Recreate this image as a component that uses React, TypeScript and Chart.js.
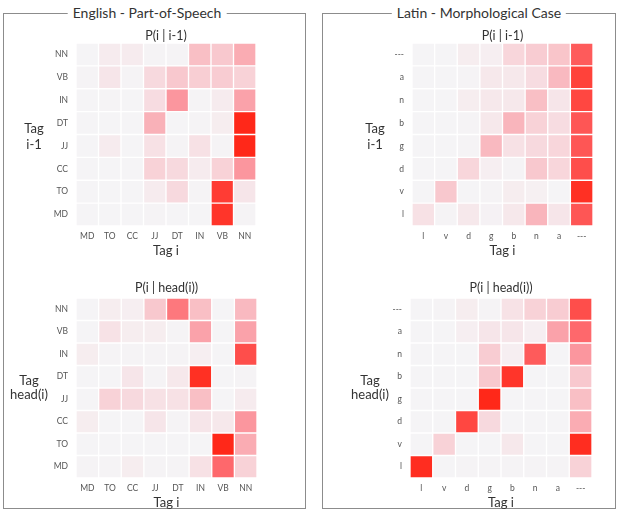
import React, { useEffect, useRef } from "react";
import { Chart, registerables } from "chart.js";

Chart.register(...registerables);

const FONT = "Lato, 'Open Sans', 'DejaVu Sans', sans-serif";

// Column tags (left to right) and row tags (top to bottom)
const posCols = ["MD", "TO", "CC", "JJ", "DT", "IN", "VB", "NN"];
const posRows = ["NN", "VB", "IN", "DT", "JJ", "CC", "TO", "MD"];
const caseCols = ["l", "v", "d", "g", "b", "n", "a", "---"];
const caseRows = ["---", "a", "n", "b", "g", "d", "v", "l"];

// English POS: P(i | i-1), one array per row (top to bottom)
const enPrevNN = [0.02, 0.08, 0.08, 0.03, 0.03, 0.35, 0.3, 0.45];
const enPrevVB = [0.03, 0.12, 0.03, 0.2, 0.3, 0.27, 0.28, 0.25];
const enPrevIN = [0.02, 0.03, 0.02, 0.18, 0.55, 0.03, 0.08, 0.5];
const enPrevDT = [0.02, 0.02, 0.02, 0.42, 0.02, 0.03, 0.07, 1.0];
const enPrevJJ = [0.02, 0.08, 0.02, 0.15, 0.03, 0.15, 0.03, 1.0];
const enPrevCC = [0.02, 0.02, 0.02, 0.25, 0.2, 0.08, 0.25, 0.55];
const enPrevTO = [0.02, 0.02, 0.02, 0.08, 0.2, 0.03, 0.92, 0.12];
const enPrevMD = [0.02, 0.02, 0.02, 0.03, 0.02, 0.02, 0.95, 0.03];

// English POS: P(i | head(i))
const enHeadNN = [0.02, 0.07, 0.06, 0.3, 0.68, 0.35, 0.02, 0.38];
const enHeadVB = [0.02, 0.14, 0.07, 0.07, 0.03, 0.5, 0.02, 0.5];
const enHeadIN = [0.07, 0.03, 0.03, 0.03, 0.03, 0.06, 0.02, 0.85];
const enHeadDT = [0.02, 0.02, 0.12, 0.03, 0.1, 0.97, 0.02, 0.03];
const enHeadJJ = [0.02, 0.25, 0.2, 0.15, 0.15, 0.35, 0.02, 0.08];
const enHeadCC = [0.07, 0.02, 0.02, 0.12, 0.03, 0.12, 0.1, 0.55];
const enHeadTO = [0.02, 0.02, 0.02, 0.02, 0.02, 0.02, 1.0, 0.45];
const enHeadMD = [0.03, 0.03, 0.07, 0.03, 0.03, 0.15, 0.75, 0.25];

// Latin case: P(i | i-1)
const laPrevX = [0.02, 0.02, 0.07, 0.06, 0.22, 0.28, 0.32, 0.8];
const laPrevA = [0.02, 0.02, 0.03, 0.1, 0.1, 0.18, 0.38, 0.9];
const laPrevN = [0.02, 0.02, 0.07, 0.1, 0.1, 0.35, 0.12, 0.88];
const laPrevB = [0.02, 0.02, 0.03, 0.1, 0.4, 0.25, 0.18, 0.82];
const laPrevG = [0.02, 0.02, 0.03, 0.38, 0.15, 0.2, 0.22, 0.82];
const laPrevD = [0.02, 0.02, 0.22, 0.06, 0.03, 0.3, 0.22, 0.85];
const laPrevV = [0.02, 0.3, 0.02, 0.03, 0.07, 0.05, 0.02, 0.97];
const laPrevL = [0.15, 0.03, 0.1, 0.04, 0.1, 0.4, 0.12, 0.82];

// Latin case: P(i | head(i))
const laHeadX = [0.02, 0.03, 0.07, 0.03, 0.14, 0.25, 0.28, 0.85];
const laHeadA = [0.02, 0.02, 0.06, 0.12, 0.12, 0.06, 0.5, 0.75];
const laHeadN = [0.02, 0.02, 0.02, 0.28, 0.06, 0.8, 0.02, 0.55];
const laHeadB = [0.02, 0.02, 0.02, 0.3, 0.95, 0.02, 0.02, 0.3];
const laHeadG = [0.02, 0.02, 0.02, 1.0, 0.02, 0.02, 0.02, 0.35];
const laHeadD = [0.02, 0.02, 0.88, 0.2, 0.02, 0.02, 0.02, 0.45];
const laHeadV = [0.02, 0.25, 0.02, 0.02, 0.1, 0.02, 0.02, 0.98];
const laHeadL = [0.98, 0.02, 0.03, 0.03, 0.03, 0.03, 0.03, 0.25];

// light grey -> pink -> red
const colorStops: number[][] = [
  [0, 245, 247, 249],
  [0.25, 248, 210, 215],
  [0.5, 250, 162, 170],
  [0.75, 254, 104, 108],
  [1, 255, 40, 25],
];

function heatColor(v: number): string {
  const t = Math.max(0, Math.min(1, v));
  for (let i = 1; i < colorStops.length; i++) {
    const a = colorStops[i - 1];
    const b = colorStops[i];
    if (t <= b[0]) {
      const f = (t - a[0]) / (b[0] - a[0]);
      const c = [1, 2, 3].map((k) => Math.round(a[k] + (b[k] - a[k]) * f));
      return `rgb(${c[0]},${c[1]},${c[2]})`;
    }
  }
  return "rgb(255,40,25)";
}

type Box = { x0: number; y0: number; x1: number; y1: number };

type HeatProps = {
  cols: string[];
  rows: string[];
  values: number[][];
  title: string;
  yLabel: string[];
  area: Box;
  titleY: number;
  xTitleY: number;
  canvasLeft: number;
  canvasRight: number;
  yLabelX: number;
  yLabelY: number[];
};

const TITLE_SIZE = 12.5;
const XTITLE_SIZE = 13;
const TICK_SIZE = 8.5;

function Heatmap(p: HeatProps) {
  const ref = useRef<HTMLCanvasElement | null>(null);

  const lhT = TITLE_SIZE * 1.2;
  const lhX = XTITLE_SIZE * 1.2;
  const top = Math.round(p.titleY - lhT / 2 - 2);
  const bottom = Math.round(p.xTitleY + lhX / 2);
  const height = bottom - top;
  const width = p.canvasRight - p.canvasLeft;
  const yAxisW = p.area.x0 - p.canvasLeft;
  const xAxisH = bottom - p.area.y1;
  const padRight = p.canvasRight - p.area.x1;
  const titleTopPad = p.titleY - lhT / 2 - top;
  const titleBottomPad = p.area.y0 - p.titleY - lhT / 2;

  useEffect(() => {
    if (!ref.current) return;
    // stack rows from the bottom up, one dataset per row
    const bottomUp = p.rows.map((r, i) => ({ r, vals: p.values[i] })).reverse();
    const datasets = bottomUp.map((row) => ({
      label: row.r,
      data: p.cols.map(() => 1),
      backgroundColor: row.vals.map((v) => heatColor(v)),
      borderColor: "#ffffff",
      borderWidth: 1,
      borderSkipped: false as const,
      barPercentage: 1,
      categoryPercentage: 1,
    }));

    const yLabelPlugin = {
      id: "rowAxisLabel",
      afterDraw(chart: any) {
        const ctx = chart.ctx;
        ctx.save();
        ctx.fillStyle = "#333";
        ctx.font = `${XTITLE_SIZE}px ${FONT}`;
        ctx.textAlign = "center";
        ctx.textBaseline = "middle";
        p.yLabel.forEach((line, i) => {
          ctx.fillText(line, p.yLabelX - p.canvasLeft, p.yLabelY[i] - top);
        });
        ctx.restore();
      },
    };

    const chart = new Chart(ref.current, {
      type: "bar",
      data: { labels: p.cols, datasets },
      plugins: [yLabelPlugin],
      options: {
        animation: false,
        responsive: false,
        devicePixelRatio: 1,
        layout: { padding: { left: 0, right: padRight, top: 0, bottom: 0 } },
        plugins: {
          legend: { display: false },
          tooltip: { enabled: false },
          title: {
            display: true,
            text: p.title,
            fullSize: false,
            color: "#333",
            font: { family: FONT, size: TITLE_SIZE, weight: "normal" },
            padding: { top: titleTopPad, bottom: titleBottomPad },
          },
        },
        scales: {
          x: {
            type: "category",
            stacked: true,
            grid: { display: false, drawTicks: false },
            border: { display: false },
            ticks: {
              color: "#555",
              font: { family: FONT, size: TICK_SIZE },
              padding: 5,
              maxRotation: 0,
              autoSkip: false,
            },
            title: {
              display: true,
              text: "Tag i",
              color: "#333",
              font: { family: FONT, size: XTITLE_SIZE },
              padding: 0,
            },
            afterFit: (s: any) => {
              s.height = xAxisH;
            },
          },
          y: {
            type: "linear",
            stacked: true,
            min: 0,
            max: p.rows.length,
            grid: { display: false, drawTicks: false },
            border: { display: false },
            afterBuildTicks: (s: any) => {
              s.ticks = bottomUp.map((_, i) => ({ value: i + 0.5 }));
            },
            ticks: {
              color: "#555",
              font: { family: FONT, size: TICK_SIZE },
              padding: 8,
              autoSkip: false,
              callback: (_v: any, i: number) => bottomUp[i]?.r ?? "",
            },
            afterFit: (s: any) => {
              s.width = yAxisW;
            },
          },
        },
      } as any,
    });
    return () => chart.destroy();
  }, []);

  return (
    <canvas
      ref={ref}
      width={width}
      height={height}
      style={{ position: "absolute", left: p.canvasLeft, top, width, height }}
    />
  );
}

function Panel(props: { left: number; right: number; title: string; titleX: number }) {
  const top = 13;
  const bottom = 509;
  return (
    <>
      <div
        style={{
          position: "absolute",
          left: props.left,
          top,
          width: props.right - props.left,
          height: bottom - top,
          border: "1.5px solid #8c8c8c",
          boxSizing: "border-box",
        }}
      />
      <div
        style={{
          position: "absolute",
          left: props.titleX,
          top: top,
          transform: "translate(-50%, -50%)",
          background: "#fff",
          padding: "0 5px",
          fontFamily: FONT,
          fontSize: 14,
          color: "#333",
          whiteSpace: "nowrap",
          lineHeight: "16px",
        }}
      >
        {props.title}
      </div>
    </>
  );
}

export default function App() {
  return (
    <div
      style={{
        position: "fixed",
        left: 0,
        top: 0,
        width: 618,
        height: 513,
        background: "#fff",
        overflow: "hidden",
      }}
    >
      <Panel left={3} right={306} title="English - Part-of-Speech" titleX={147} />
      <Panel left={322} right={616} title="Latin - Morphological Case" titleX={479} />

      <Heatmap
        cols={posCols}
        rows={posRows}
        values={[enPrevNN, enPrevVB, enPrevIN, enPrevDT, enPrevJJ, enPrevCC, enPrevTO, enPrevMD]}
        title="P(i | i-1)"
        yLabel={["Tag", "i-1"]}
        area={{ x0: 76, y0: 43, x1: 256, y1: 226 }}
        titleY={36}
        xTitleY={251}
        canvasLeft={8}
        canvasRight={266}
        yLabelX={34}
        yLabelY={[129, 145]}
      />
      <Heatmap
        cols={posCols}
        rows={posRows}
        values={[enHeadNN, enHeadVB, enHeadIN, enHeadDT, enHeadJJ, enHeadCC, enHeadTO, enHeadMD]}
        title="P(i | head(i))"
        yLabel={["Tag", "head(i)"]}
        area={{ x0: 76, y0: 298, x1: 257, y1: 478 }}
        titleY={288}
        xTitleY={503}
        canvasLeft={8}
        canvasRight={266}
        yLabelX={29}
        yLabelY={[381, 395]}
      />
      <Heatmap
        cols={caseCols}
        rows={caseRows}
        values={[laPrevX, laPrevA, laPrevN, laPrevB, laPrevG, laPrevD, laPrevV, laPrevL]}
        title="P(i | i-1)"
        yLabel={["Tag", "i-1"]}
        area={{ x0: 412, y0: 43, x1: 593, y1: 226 }}
        titleY={36}
        xTitleY={251}
        canvasLeft={328}
        canvasRight={603}
        yLabelX={375}
        yLabelY={[129, 145]}
      />
      <Heatmap
        cols={caseCols}
        rows={caseRows}
        values={[laHeadX, laHeadA, laHeadN, laHeadB, laHeadG, laHeadD, laHeadV, laHeadL]}
        title="P(i | head(i))"
        yLabel={["Tag", "head(i)"]}
        area={{ x0: 410, y0: 298, x1: 592, y1: 478 }}
        titleY={288}
        xTitleY={503}
        canvasLeft={328}
        canvasRight={603}
        yLabelX={370}
        yLabelY={[381, 395]}
      />
    </div>
  );
}
